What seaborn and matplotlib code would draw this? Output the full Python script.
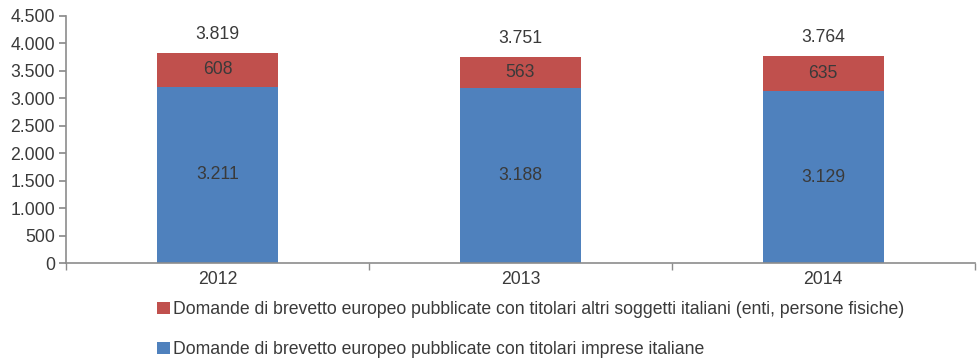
import seaborn as sns
import matplotlib.pyplot as plt
import pandas as pd

years = ["2012", "2013", "2014"]
imprese = [3211, 3188, 3129]
altri = [608, 563, 635]
totali = [3819, 3751, 3764]

lab_altri = "Domande di brevetto europeo pubblicate con titolari altri soggetti italiani (enti, persone fisiche)"
lab_imprese = "Domande di brevetto europeo pubblicate con titolari imprese italiane"

df = pd.DataFrame({"Anno": years, "imprese": imprese, "altri": altri, "totale": totali})

sns.set_theme(style="white")
plt.rcParams['font.family'] = ['Liberation Sans', 'DejaVu Sans']
txt = "#3a3a3a"
axc = "#8c8c8c"
blue = "#4F81BD"
red = "#C0504D"
fs = 12.7

fig = plt.figure(figsize=(9.77, 3.6), dpi=100)
ax = fig.add_axes([0.0676, 0.269, 0.930, 0.687])

# stacked: full height in red, blue part drawn over it
sns.barplot(x="Anno", y="totale", data=df, color=red, width=0.4, saturation=1,
            linewidth=0, ax=ax, label=lab_altri)
sns.barplot(x="Anno", y="imprese", data=df, color=blue, width=0.4, saturation=1,
            linewidth=0, ax=ax, label=lab_imprese)

for i in range(len(years)):
    ax.text(i, imprese[i] / 2, f"{imprese[i]:,}".replace(",", "."), ha="center", va="center",
            fontsize=fs, color=txt)
    ax.text(i, imprese[i] + altri[i] / 2, str(altri[i]), ha="center", va="center",
            fontsize=fs, color=txt)
    ax.text(i, totali[i] + 340, f"{totali[i]:,}".replace(",", "."), ha="center", va="center",
            fontsize=fs, color=txt)

ax.set_ylim(0, 4500)
ax.set_xlim(-0.5, 2.5)
ax.set_yticks(range(0, 4501, 500))
ax.set_yticklabels([f"{v:,}".replace(",", ".") for v in range(0, 4501, 500)])
ax.set_xlabel("")
ax.set_ylabel("")
ax.set_xticks([-0.5, 0.5, 1.5, 2.5], minor=True)
ax.tick_params(axis="x", which="major", length=0, labelsize=fs, labelcolor=txt, pad=6)
ax.tick_params(axis="x", which="minor", length=5, color=axc, direction="out", bottom=True)
ax.tick_params(axis="y", length=5, color=axc, direction="out", left=True, labelsize=fs,
               labelcolor=txt, pad=3)

sns.despine(ax=ax)
for s in ["left", "bottom"]:
    ax.spines[s].set_color(axc)
    ax.spines[s].set_linewidth(1.2)

h, l = ax.get_legend_handles_labels()
if ax.legend_:
    ax.legend_.remove()
fig.legend(h, l, loc="upper left", bbox_to_anchor=(0.161, 0.163), frameon=False,
           fontsize=fs, labelcolor=txt, handlelength=0.7, handleheight=0.7,
           handletextpad=0.2, labelspacing=1.3, borderaxespad=0, borderpad=0)

fig.savefig("out.png", dpi=100)
